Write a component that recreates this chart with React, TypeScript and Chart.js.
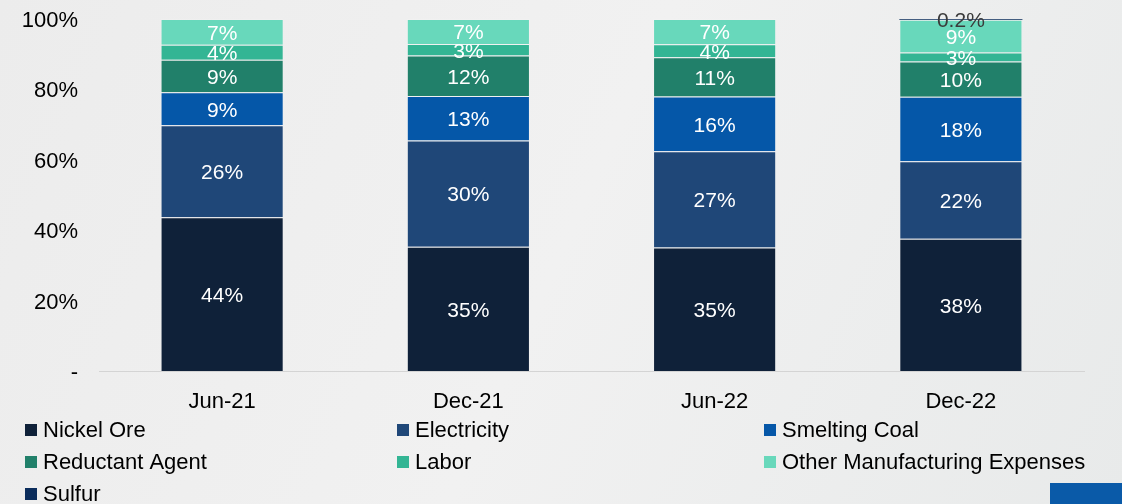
import React, { useEffect, useRef } from 'react';
import { Chart, registerables } from 'chart.js';

Chart.register(...registerables);

const FONT = '"Liberation Sans", Arial, sans-serif';

const categories = ['Jun-21', 'Dec-21', 'Jun-22', 'Dec-22'];
const nickelOre = [43.7, 35.3, 35.1, 37.6];
const electricity = [26.1, 30.2, 27.3, 22.0];
const smeltingCoal = [9.4, 12.6, 15.6, 18.3];
const reductantAgent = [9.2, 11.5, 11.1, 10.0];
const labor = [4.3, 3.3, 3.7, 2.6];
const otherExpenses = [7.3, 7.1, 7.2, 9.3];
const sulfur = [0, 0, 0, 0.2];
const seriesNames = ['Nickel Ore', 'Electricity', 'Smelting Coal', 'Reductant Agent', 'Labor', 'Other Manufacturing Expenses', 'Sulfur'];
const seriesColors = ['#0f2139', '#1f4778', '#0557a8', '#21806a', '#33b594', '#68d8bb', '#0b2d5c'];
const yTickValues = [0, 20, 40, 60, 80, 100];

const bgPlugin = {
  id: 'bg',
  beforeDraw(chart: any) {
    const { ctx, width, height } = chart;
    ctx.save();
    const g = ctx.createLinearGradient(0, 0, width, height);
    g.addColorStop(0, '#ececec');
    g.addColorStop(0.5, '#f1f1f1');
    g.addColorStop(1, '#e8eaea');
    ctx.fillStyle = g;
    ctx.fillRect(0, 0, width, height);
    ctx.restore();
  },
};

const segLabelPlugin = {
  id: 'segLabels',
  afterDatasetsDraw(chart: any) {
    const ctx = chart.ctx;
    ctx.save();
    ctx.font = `21px ${FONT}`;
    ctx.textAlign = 'center';
    ctx.textBaseline = 'middle';
    chart.data.datasets.forEach((ds: any, di: number) => {
      const meta = chart.getDatasetMeta(di);
      meta.data.forEach((bar: any, i: number) => {
        const v = ds.data[i];
        if (!v) return;
        const p = bar.getProps(['x', 'y', 'base'], true);
        const cy = (p.y + p.base) / 2;
        const small = v < 1;
        const txt = small ? v.toFixed(1) + '%' : Math.round(v) + '%';
        ctx.fillStyle = small ? '#3a3a3a' : '#ffffff';
        ctx.fillText(txt, p.x, cy + 2);
      });
    });
    ctx.restore();
  },
};

const legendPlugin = {
  id: 'gridLegend',
  afterDraw(chart: any) {
    const ctx = chart.ctx;
    const cols = [25, 397, 764];
    const rows = [430, 462, 494];
    ctx.save();
    ctx.font = `22px ${FONT}`;
    ctx.textAlign = 'left';
    ctx.textBaseline = 'middle';
    chart.data.datasets.forEach((ds: any, i: number) => {
      const x = cols[i % 3];
      const y = rows[Math.floor(i / 3)];
      ctx.fillStyle = ds.backgroundColor;
      ctx.fillRect(x, y - 6, 12, 12);
      ctx.fillStyle = '#000000';
      ctx.fillText(ds.label, x + 18, y + 1);
    });
    // decorative corner block
    ctx.fillStyle = '#0a5aa8';
    ctx.fillRect(1050, 483, 72, 21);
    ctx.restore();
  },
};

export default function App() {
  const ref = useRef<HTMLCanvasElement | null>(null);
  useEffect(() => {
    if (!ref.current) return;
    const seriesData = [nickelOre, electricity, smeltingCoal, reductantAgent, labor, otherExpenses, sulfur];
    const chart = new Chart(ref.current, {
      type: 'bar',
      data: {
        labels: categories,
        datasets: seriesData.map((d, i) => ({
          label: seriesNames[i],
          data: d,
          backgroundColor: seriesColors[i],
          borderColor: 'rgba(255,255,255,0.12)',
          borderWidth: i === 6 ? 0 : 1,
          categoryPercentage: 1,
          barPercentage: 0.5,
        })),
      },
      options: {
        animation: false,
        responsive: false,
        maintainAspectRatio: false,
        layout: { padding: { top: 19, right: 38, left: 0, bottom: 0 } },
        plugins: { legend: { display: false }, tooltip: { enabled: false } },
        scales: {
          x: {
            stacked: true,
            grid: { display: false, drawTicks: false },
            border: { display: true, color: '#d4d4d4', width: 1 },
            ticks: { color: '#000', font: { family: FONT, size: 22 }, padding: 18 },
            afterFit: (s: any) => { s.height = 133; s.paddingLeft = 0; s.paddingRight = 0; },
          },
          y: {
            stacked: true,
            min: 0,
            max: 100,
            grid: { display: false, drawTicks: false },
            border: { display: false },
            afterBuildTicks: (s: any) => { s.ticks = yTickValues.map((v) => ({ value: v })); },
            ticks: {
              color: '#000',
              font: { family: FONT, size: 22 },
              padding: 21,
              labelOffset: 2,
              callback: (v: any) => (Number(v) === 0 ? '-' : v + '%'),
            },
            afterFit: (s: any) => { s.width = 99; s.paddingTop = 0; s.paddingBottom = 0; },
          },
        },
      },
      plugins: [bgPlugin, segLabelPlugin, legendPlugin],
    });
    return () => chart.destroy();
  }, []);
  return (
    <div style={{ position: 'fixed', left: 0, top: 0, width: 1122, height: 504 }}>
      <canvas ref={ref} width={1122} height={504} style={{ width: 1122, height: 504, display: 'block' }} />
    </div>
  );
}
